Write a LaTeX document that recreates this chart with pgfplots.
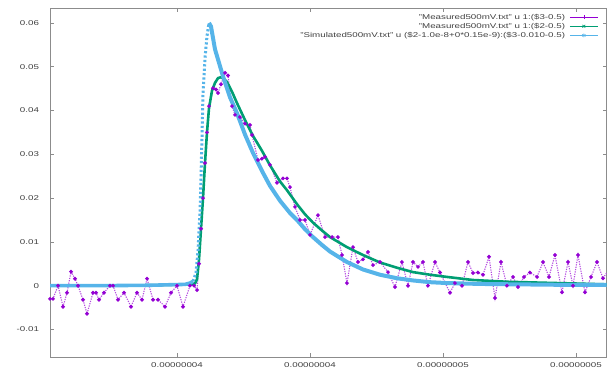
\documentclass[border=0pt]{standalone}
\usepackage{fontspec}
\setmainfont[FakeStretch=1.4]{Liberation Sans}
\usepackage{pgfplots}
\usepackage{pgfplotstable}
\pgfplotsset{compat=1.18}
\definecolor{gpviolet}{HTML}{9400D3}
\definecolor{gpgreen}{HTML}{009E73}
\definecolor{gpblue}{HTML}{56B4E9}

\pgfplotstableread{
t y
40.090 -0.0030
40.135 -0.0030
40.211 0.0000
40.286 -0.0048
40.346 -0.0016
40.406 0.0032
40.466 0.0016
40.511 0.0000
40.586 -0.0032
40.647 -0.0064
40.737 -0.0016
40.782 -0.0016
40.827 -0.0032
40.902 -0.0016
40.992 0.0000
41.038 0.0000
41.113 -0.0032
41.203 -0.0016
41.308 -0.0048
41.398 -0.0016
41.474 -0.0032
41.549 0.0016
41.639 -0.0032
41.714 -0.0032
41.820 -0.0048
41.910 -0.0016
42.000 0.0000
42.090 -0.0048
42.195 0.0000
42.256 0.0000
42.301 -0.0010
42.331 0.0050
42.361 0.0130
42.391 0.0200
42.421 0.0280
42.451 0.0350
42.481 0.0410
42.541 0.0451
42.586 0.0448
42.617 0.0440
42.662 0.0460
42.722 0.0486
42.767 0.0480
42.827 0.0410
42.872 0.0390
42.947 0.0385
43.023 0.0370
43.098 0.0367
43.128 0.0344
43.218 0.0287
43.278 0.0290
43.323 0.0294
43.398 0.0276
43.504 0.0235
43.594 0.0245
43.654 0.0245
43.699 0.0225
43.774 0.0180
43.850 0.0150
43.925 0.0150
44.000 0.0116
44.120 0.0161
44.226 0.0111
44.331 0.0111
44.421 0.0111
44.481 0.0070
44.556 0.0006
44.647 0.0088
44.722 0.0054
44.797 0.0060
44.872 0.0077
44.947 0.0047
45.053 0.0054
45.173 0.0031
45.278 -0.0003
45.383 0.0054
45.474 0.0000
45.549 0.0054
45.624 0.0043
45.699 0.0054
45.774 0.0000
45.880 0.0054
45.955 0.0030
46.105 -0.0016
46.180 0.0006
46.286 0.0000
46.376 0.0054
46.451 0.0029
46.526 0.0030
46.602 0.0025
46.692 0.0066
46.782 -0.0028
46.872 0.0054
46.962 0.0000
47.053 0.0020
47.128 -0.0003
47.218 0.0020
47.308 0.0030
47.414 0.0020
47.504 0.0054
47.594 0.0020
47.684 0.0070
47.789 -0.0015
47.880 0.0054
47.955 0.0000
48.030 0.0070
48.135 -0.0015
48.226 0.0020
48.316 0.0054
48.406 0.0017
48.466 0.0030
}\measthree

\pgfplotstableread{
t y
40.090 0.0000
40.842 0.0000
41.594 0.0001
42.195 0.0003
42.271 0.0005
42.301 0.0015
42.331 0.0060
42.361 0.0130
42.391 0.0200
42.421 0.0280
42.451 0.0350
42.481 0.0405
42.526 0.0445
42.571 0.0463
42.617 0.0474
42.662 0.0476
42.707 0.0472
42.752 0.0465
42.827 0.0443
42.902 0.0417
43.023 0.0378
43.143 0.0342
43.278 0.0308
43.398 0.0275
43.549 0.0238
43.654 0.0218
43.805 0.0186
43.925 0.0163
44.045 0.0144
44.180 0.0126
44.301 0.0111
44.556 0.0088
44.797 0.0070
45.053 0.0053
45.308 0.0041
45.549 0.0031
45.805 0.0025
46.060 0.0020
46.451 0.0013
46.962 0.0009
47.459 0.0007
47.985 0.0005
48.466 0.0003
}\meastwo

\pgfplotstableread{
t y
40.090 0.0000
40.842 0.0000
41.594 0.0001
42.120 0.0003
42.195 0.0006
42.241 0.0010
42.286 0.0030
42.316 0.0080
42.346 0.0170
42.361 0.0250
42.376 0.0340
42.391 0.0440
42.421 0.0520
42.451 0.0570
42.481 0.0600
42.511 0.0592
42.571 0.0540
42.692 0.0478
42.797 0.0430
42.902 0.0394
43.023 0.0345
43.143 0.0303
43.278 0.0262
43.398 0.0228
43.549 0.0194
43.699 0.0166
43.805 0.0150
43.925 0.0129
44.045 0.0111
44.180 0.0093
44.301 0.0078
44.556 0.0054
44.797 0.0037
45.053 0.0025
45.308 0.0017
45.549 0.0012
45.805 0.0008
46.060 0.0006
46.556 0.0004
47.158 0.0003
47.759 0.0002
48.466 0.0002
}\simdata

\begin{document}
\begin{tikzpicture}
\useasboundingbox (-50bp,-16bp) rectangle (558bp,357bp);
\begin{axis}[
  at={(0,0)}, anchor=south west,
  scale only axis, width=556.5bp, height=348.5bp,
  xmin=40.090, xmax=48.459, ymin=-0.01628, ymax=0.06329,
  scaled x ticks=false, scaled y ticks=false,
  xtick={42,44,46,48},
  xticklabels={0.00000004,0.00000004,0.00000005,0.00000005},
  ytick={-0.01,0,0.01,0.02,0.03,0.04,0.05,0.06},
  yticklabels={-0.01,0,0.01,0.02,0.03,0.04,0.05,0.06},
  tick align=inside, major tick length=4bp,
  axis line style={black!45, line width=0.8bp},
  tick style={black!45, line width=0.6bp},
  ticklabel style={font=\fontsize{7}{8}\selectfont, text=black!75},
  yticklabel style={xshift=-7.5bp},
  xticklabel style={yshift=-2bp},
  legend style={draw=none, fill=none, inner sep=0pt, outer sep=0pt,
    at={(0.985,0.987)}, anchor=north east,
    font=\fontsize{7}{8}\selectfont, text=black!75,
    nodes={inner sep=0.5bp, text height=5.5bp, text depth=1.5bp},
    row sep=1.2bp, column sep=4bp},
  legend cell align=right, legend plot pos=right,
  legend image code/.code={\draw[mark repeat=2,mark phase=2,#1] plot coordinates {(0bp,0bp) (14bp,0bp) (28bp,0bp)};},
]
\addlegendimage{gpviolet, line width=0.6bp, mark=+, mark size=2bp}
\addlegendentry{"Measured500mV.txt" u 1:(\$3-0.5)}
\addlegendimage{gpgreen, line width=0.6bp, mark=x, mark size=2bp}
\addlegendentry{"Measured500mV.txt" u 1:(\$2-0.5)}
\addlegendimage{gpblue, line width=0.6bp, mark=asterisk, mark size=2bp}
\addlegendentry{"Simulated500mV.txt" u (\$2-1.0e-8+0*0.15e-9):(\$3-0.010-0.5)}

\addplot[forget plot, gpviolet!70, line width=1.1bp, dash pattern=on 1.2bp off 1.2bp,
  mark=*, mark size=1.3bp, mark options={solid, fill=gpviolet, draw=gpviolet}]
  table[x=t, y=y] {\measthree};
\addplot[forget plot, gpgreen, line width=2.6bp, line join=round] table[x=t, y=y] {\meastwo};
\addplot[forget plot, gpblue, line width=3.6bp, line join=round,
  restrict x to domain=40:42.242] table[x=t, y=y] {\simdata};
\addplot[forget plot, gpblue, line width=3bp, dash pattern=on 2.2bp off 2.2bp,
  restrict x to domain=42.240:42.482] table[x=t, y=y] {\simdata};
\addplot[forget plot, gpblue, line width=4bp, line join=round,
  restrict x to domain=42.480:49] table[x=t, y=y] {\simdata};
\end{axis}
\end{tikzpicture}
\end{document}
